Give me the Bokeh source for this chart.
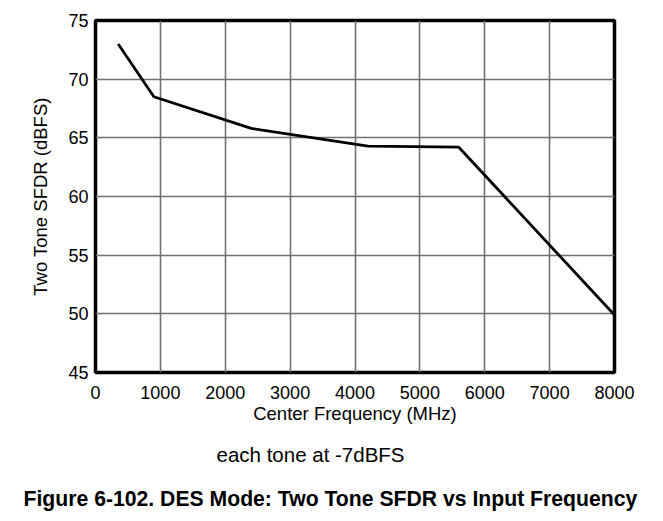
from bokeh.plotting import figure
from bokeh.models import Range1d, FixedTicker, Title
from bokeh.embed import file_html
from bokeh.resources import INLINE

# data
freq_mhz = [350, 900, 2400, 4200, 5600, 8000]
sfdr_dbfs = [73.0, 68.5, 65.8, 64.3, 64.2, 49.9]
x_ticks = [0, 1000, 2000, 3000, 4000, 5000, 6000, 7000, 8000]
y_ticks = [45, 50, 55, 60, 65, 70, 75]

FONT = "Liberation Sans"

p = figure(width=655, height=513, output_backend="svg", toolbar_location=None,
           x_range=Range1d(0, 8000), y_range=Range1d(45, 75),
           min_border_left=95, min_border_right=41, min_border_top=20,
           min_border_bottom=141)

p.outline_line_color = "black"
p.outline_line_width = 3.5
p.background_fill_color = "white"
p.border_fill_color = "white"

for ax in (p.xaxis[0], p.yaxis[0]):
    ax.axis_line_color = None
    ax.major_tick_line_color = None
    ax.minor_tick_line_color = None
    ax.major_tick_out = 0
    ax.major_tick_in = 0
    ax.major_label_text_font = FONT
    ax.major_label_text_color = "black"
    ax.axis_label_text_font = FONT
    ax.axis_label_text_font_style = "normal"
    ax.axis_label_text_color = "black"

p.xaxis.ticker = FixedTicker(ticks=x_ticks)
p.yaxis.ticker = FixedTicker(ticks=y_ticks)
p.xaxis.major_label_text_font_size = "18px"
p.yaxis.major_label_text_font_size = "18px"
p.xaxis.major_label_standoff = 13
p.yaxis.major_label_standoff = 7
p.xaxis.axis_label = "Center Frequency (MHz)"
p.yaxis.axis_label = "Two Tone SFDR (dBFS)"
p.xaxis.axis_label_text_font_size = "18.5px"
p.yaxis.axis_label_text_font_size = "18.5px"
p.xaxis.axis_label_standoff = 1
p.yaxis.axis_label_standoff = 14

p.xgrid.ticker = FixedTicker(ticks=x_ticks)
p.ygrid.ticker = FixedTicker(ticks=y_ticks)
p.grid.grid_line_color = "#707070"
p.grid.grid_line_width = 1.6

p.line(freq_mhz, sfdr_dbfs, line_color="black", line_width=2.8)

note = Title(text="each tone at -7dBFS", align="left", offset=121, standoff=29,
             text_font=FONT, text_font_size="20.5px", text_font_style="normal",
             text_color="black")
p.add_layout(note, "below")
cap = Title(text="Figure 6-102. DES Mode: Two Tone SFDR vs Input Frequency",
            align="left", offset=-72, standoff=8,
            text_font=FONT, text_font_size="21.2px", text_font_style="bold",
            text_color="black")
p.add_layout(cap, "below")

open("out.html", "w").write(file_html(p, INLINE))
